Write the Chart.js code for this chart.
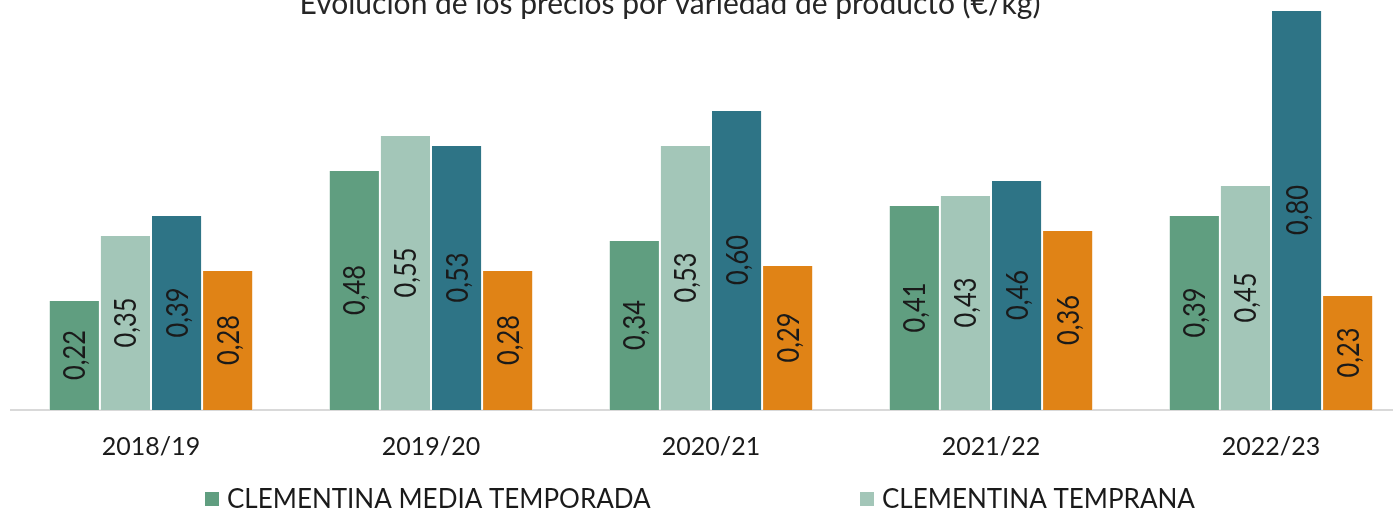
<!DOCTYPE html>
<html>
<head>
<meta charset="utf-8">
<script src="https://cdn.jsdelivr.net/npm/chart.js@4.4.1/dist/chart.umd.min.js"></script>
<style>
  html, body { margin: 0; padding: 0; background: #fff; overflow: hidden; }
  #wrap { position: absolute; left: 0; top: 0; width: 1420px; height: 512px; }
</style>
</head>
<body>
<div id="wrap"><canvas id="chart"></canvas></div>
<script>
const campaigns = ["2018/19", "2019/20", "2020/21", "2021/22", "2022/23"];
const mediaTemporada = [0.22, 0.48, 0.34, 0.41, 0.39];
const temprana = [0.35, 0.55, 0.53, 0.43, 0.45];
const tardia = [0.39, 0.53, 0.60, 0.46, 0.80];
const satsuma = [0.28, 0.28, 0.29, 0.36, 0.23];
const seriesNames = ["CLEMENTINA MEDIA TEMPORADA", "CLEMENTINA TEMPRANA", "CLEMENTINA TARDÍA", "SATSUMA"];
const seriesColors = ["#609E80", "#A3C6B8", "#2E7486", "#E08316"];
const chartTitle = "Evolución de los precios por variedad de producto (€/kg)";

const FONT = "Lato, 'Open Sans', sans-serif";

// title drawn by hand so the plot can run up under it, like the original
const titlePlugin = {
  id: "topTitle",
  afterDraw(chart) {
    const ctx = chart.ctx;
    ctx.save();
    ctx.fillStyle = "#262626";
    ctx.font = `30px ${FONT}`;
    ctx.textAlign = "center";
    ctx.textBaseline = "alphabetic";
    ctx.fillText(chartTitle, 670, 14);
    ctx.restore();
  },
};

// rotated value labels in the middle of each bar
const valueLabels = {
  id: "valueLabels",
  afterDatasetsDraw(chart) {
    const ctx = chart.ctx;
    chart.data.datasets.forEach((ds, i) => {
      const meta = chart.getDatasetMeta(i);
      meta.data.forEach((bar, j) => {
        const cy = (bar.y + bar.base) / 2;
        ctx.save();
        ctx.translate(bar.x, cy);
        ctx.rotate(-Math.PI / 2);
        ctx.scale(0.82, 1);
        ctx.font = `31px ${FONT}`;
        ctx.fillStyle = "#1a1a1a";
        ctx.textAlign = "center";
        ctx.textBaseline = "middle";
        ctx.fillText(ds.data[j].toFixed(2).replace(".", ","), 0, 1);
        ctx.restore();
      });
    });
  },
};

// two-column legend under the axis (second row falls off the picture)
const gridLegend = {
  id: "gridLegend",
  afterDraw(chart) {
    const ctx = chart.ctx;
    const cols = [205, 860];
    const rowY = [499, 545];
    ctx.save();
    ctx.font = `26px ${FONT}`;
    ctx.textBaseline = "middle";
    chart.data.datasets.forEach((ds, i) => {
      const x = cols[i % 2];
      const y = rowY[Math.floor(i / 2)];
      ctx.fillStyle = ds.backgroundColor;
      ctx.fillRect(x, y - 7, 14, 14);
      ctx.fillStyle = "#1a1a1a";
      ctx.fillText(ds.label, x + 22, y + 1);
    });
    ctx.restore();
  },
};

const seriesData = [mediaTemporada, temprana, tardia, satsuma];

new Chart(document.getElementById("chart"), {
  type: "bar",
  data: {
    labels: campaigns,
    datasets: seriesData.map((values, i) => ({
      label: seriesNames[i],
      data: values,
      backgroundColor: seriesColors[i],
      borderColor: "rgba(255,255,255,0.6)",
      borderWidth: 1,
      categoryPercentage: 0.73,
      barPercentage: 1,
    })),
  },
  options: {
    responsive: true,
    maintainAspectRatio: false,
    animation: false,
    layout: { padding: { left: 11, right: 9, top: 0, bottom: 0 } },
    plugins: {
      legend: { display: false },
      title: { display: false },
      tooltip: { enabled: false },
    },
    scales: {
      x: {
        grid: { display: false, drawTicks: false },
        border: { display: true, color: "#D9D9D9", width: 2 },
        ticks: {
          color: "#1a1a1a",
          padding: 22,
          font: { family: FONT, size: 25 },
        },
        afterFit(scale) { scale.height = 102; },
      },
      y: {
        display: false,
        min: 0,
        max: 0.82,
      },
    },
  },
  plugins: [valueLabels, titlePlugin, gridLegend],
});
</script>
</body>
</html>
